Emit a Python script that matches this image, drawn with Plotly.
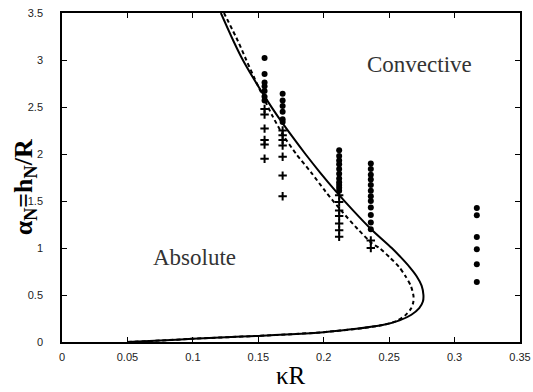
import plotly.graph_objects as go

# Solid boundary curve (kappa R, alpha_N)
solid_k = [0.05, 0.075, 0.1, 0.125, 0.15, 0.175, 0.2, 0.225, 0.245, 0.258, 0.267, 0.273, 0.2758, 0.2762,
           0.2748, 0.2710, 0.2655, 0.2590, 0.2520, 0.2362, 0.2224, 0.2095, 0.1974, 0.1860, 0.1752,
           0.1649, 0.1554, 0.1465, 0.1382, 0.1311, 0.1214]
solid_a = [0.0, 0.015, 0.035, 0.05, 0.065, 0.082, 0.105, 0.14, 0.18, 0.23, 0.29, 0.36, 0.43, 0.5,
           0.6, 0.7, 0.8, 0.9, 1.0, 1.2, 1.4, 1.6, 1.8, 2.0, 2.2,
           2.4, 2.6, 2.8, 3.0, 3.2, 3.5]

# Dashed boundary curve
dash_k = [0.05, 0.075, 0.1, 0.125, 0.15, 0.175, 0.2, 0.225, 0.245, 0.255, 0.262, 0.2665, 0.2684, 0.2686,
          0.2665, 0.2625, 0.2575, 0.2505, 0.2425, 0.2368, 0.2261, 0.2132, 0.2014, 0.1906, 0.1790,
          0.1690, 0.1610, 0.1540, 0.1473, 0.1408, 0.1345, 0.1238]
dash_a = [0.0, 0.015, 0.035, 0.05, 0.065, 0.082, 0.105, 0.14, 0.18, 0.22, 0.28, 0.35, 0.42, 0.49,
          0.6, 0.7, 0.8, 0.9, 1.0, 1.05, 1.2, 1.4, 1.6, 1.8, 2.0,
          2.2, 2.4, 2.6, 2.8, 3.0, 3.2, 3.5]

# Filled circles (convective)
dot_k = [0.1548] * 7 + [0.1686] * 6 + [0.2118] * 11 + [0.2360] * 12 + [0.3170] * 6
dot_a = [3.02, 2.85, 2.76, 2.72, 2.67, 2.61, 2.57,
         2.64, 2.57, 2.51, 2.45, 2.37, 2.34,
         2.04, 1.98, 1.93, 1.89, 1.84, 1.79, 1.74, 1.70, 1.67, 1.64, 1.61,
         1.90, 1.84, 1.78, 1.73, 1.67, 1.61, 1.55, 1.50, 1.43, 1.35, 1.27, 1.20,
         1.426, 1.348, 1.117, 0.986, 0.827, 0.638]

# Plus markers (absolute)
plus_k = [0.1548] * 6 + [0.1686] * 7 + [0.2118] * 7 + [0.2360] * 2
plus_a = [2.48, 2.42, 2.27, 2.15, 2.10, 1.95,
          2.25, 2.20, 2.15, 2.09, 1.97, 1.77, 1.55,
          1.56, 1.49, 1.40, 1.34, 1.26, 1.19, 1.12,
          1.08, 1.00]

x_ticks = [0, 0.05, 0.1, 0.15, 0.2, 0.25, 0.3, 0.35]
x_labels = ["0", "0.05", "0.1", "0.15", "0.2", "0.25", "0.3", "0.35"]
y_ticks = [0, 0.5, 1, 1.5, 2, 2.5, 3, 3.5]
y_labels = ["0", "0.5", "1", "1.5", "2", "2.5", "3", "3.5"]

fig = go.Figure()
fig.add_trace(go.Scatter(x=solid_k, y=solid_a, mode="lines",
                         line=dict(color="black", width=2, shape="spline", smoothing=0.7)))
fig.add_trace(go.Scatter(x=dash_k, y=dash_a, mode="lines",
                         line=dict(color="black", width=2, dash="4px,3px", shape="spline", smoothing=0.7)))
fig.add_trace(go.Scatter(x=dot_k, y=dot_a, mode="markers",
                         marker=dict(symbol="circle", size=6, color="black")))
fig.add_trace(go.Scatter(x=plus_k, y=plus_a, mode="markers",
                         marker=dict(symbol="cross-thin", size=6, color="black",
                                     line=dict(color="black", width=2))))

axis_common = dict(showline=True, linecolor="black", linewidth=1.5, mirror="allticks",
                   ticks="inside", ticklen=5, tickwidth=1.2, tickcolor="black",
                   showgrid=False, zeroline=False, automargin=False,
                   tickfont=dict(family="Liberation Sans, Arial", size=11, color="#222"))

fig.update_xaxes(range=[0, 0.35], tickvals=x_ticks, ticktext=x_labels,
                 ticklabelstandoff=4, **axis_common)
fig.update_yaxes(range=[0, 3.5], tickvals=y_ticks, ticktext=y_labels,
                 ticklabelstandoff=15, **axis_common)

fig.add_annotation(text="Convective", x=0.273, y=2.95, xref="x", yref="y", showarrow=False,
                   font=dict(family="Liberation Serif, DejaVu Serif", size=23, color="#333"))
fig.add_annotation(text="Absolute", x=0.101, y=0.90, xref="x", yref="y", showarrow=False,
                   font=dict(family="Liberation Serif, DejaVu Serif", size=23, color="#333"))
fig.add_annotation(text="κR", x=0.5, y=0, xref="paper", yref="paper", xanchor="center",
                   yanchor="middle", yshift=-33, showarrow=False,
                   font=dict(family="Liberation Serif, DejaVu Serif", size=25, color="black"))
fig.add_annotation(text="<b>α<sub>N</sub>=h<sub>N</sub>/R</b>", x=0, y=0.47, xref="paper", yref="paper",
                   xanchor="center", yanchor="middle", xshift=-37, textangle=-90, showarrow=False,
                   font=dict(family="Liberation Serif, DejaVu Serif", size=26, color="black"))

fig.update_layout(width=533, height=392, margin=dict(l=62, r=13, t=13, b=50),
                  plot_bgcolor="white", paper_bgcolor="white", showlegend=False)

fig.write_html("out.html")
